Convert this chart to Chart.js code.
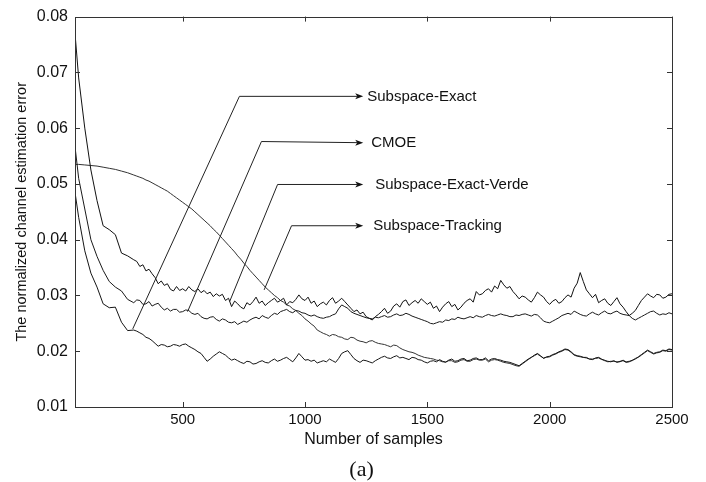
<!DOCTYPE html>
<html>
<head>
<meta charset="utf-8">
<script src="https://cdn.jsdelivr.net/npm/chart.js@4/dist/chart.umd.min.js"></script>
<style>
  html, body { margin: 0; padding: 0; background: #ffffff; }
  #wrap { width: 706px; height: 482px; position: relative; }
</style>
</head>
<body>
<div id="wrap"><canvas id="c" width="706" height="482"></canvas></div>
<script>
// ---------------- data ----------------
const samples = [
  60,75,100,125,150,175,200,225,250,275,
  300,312.5,325,337.5,350,362.5,375,387.5,400,412.5,425,437.5,450,462.5,475,487.5,
  500,512.5,525,537.5,550,562.5,575,587.5,600,612.5,625,637.5,650,662.5,675,687.5,
  700,712.5,725,737.5,750,762.5,775,787.5,800,812.5,825,837.5,850,862.5,875,887.5,
  900,912.5,925,937.5,950,962.5,975,987.5,1000,1012.5,1025,1037.5,1050,1062.5,1075,1087.5,
  1100,1112.5,1125,1137.5,1150,1162.5,1175,1187.5,1200,1212.5,1225,1237.5,1250,1262.5,1275,1287.5,
  1300,1312.5,1325,1337.5,1350,1362.5,1375,1387.5,1400,1412.5,1425,1437.5,1450,1462.5,1475,1487.5,
  1500,1512.5,1525,1537.5,1550,1562.5,1575,1587.5,1600,1612.5,1625,1637.5,1650,1662.5,1675,1687.5,
  1700,1712.5,1725,1737.5,1750,1762.5,1775,1787.5,1800,1812.5,1825,1837.5,1850,1862.5,1875,1887.5,
  1900,1912.5,1925,1937.5,1950,1962.5,1975,1987.5,2000,2012.5,2025,2037.5,2050,2062.5,2075,2087.5,
  2100,2112.5,2125,2137.5,2150,2162.5,2175,2187.5,2200,2212.5,2225,2237.5,2250,2262.5,2275,2287.5,
  2300,2312.5,2325,2337.5,2350,2362.5,2375,2387.5,2400,2412.5,2425,2437.5,2450,2462.5,2475,2487.5,
  2500];

const subspaceExactVerde = [
  0.0770,0.0690,0.0600,0.0525,0.0470,0.0425,0.0418,0.0409,0.0376,0.0371,
  0.0364,0.0361,0.0352,0.0355,0.0344,0.0347,0.0339,0.0332,0.0321,0.0326,0.0318,0.0321,0.0311,0.0308,0.0316,0.0309,
  0.0312,0.0308,0.0316,0.0310,0.0307,0.0312,0.0305,0.0309,0.0303,0.0306,0.0298,0.0303,0.0299,0.0302,0.0291,0.0295,
  0.0280,0.0290,0.0285,0.0279,0.0276,0.0287,0.0283,0.0289,0.0297,0.0286,0.0290,0.0282,0.0287,0.0291,0.0295,0.0288,
  0.0291,0.0295,0.0283,0.0289,0.0287,0.0293,0.0301,0.0294,0.0291,0.0297,0.0286,0.0290,0.0280,0.0285,0.0288,0.0283,
  0.0291,0.0296,0.0286,0.0290,0.0295,0.0289,0.0283,0.0277,0.0271,0.0274,0.0267,0.0270,0.0262,0.0259,0.0256,0.0262,
  0.0266,0.0271,0.0277,0.0268,0.0272,0.0281,0.0285,0.0279,0.0289,0.0292,0.0282,0.0287,0.0291,0.0286,0.0294,0.0289,
  0.0284,0.0288,0.0277,0.0281,0.0271,0.0279,0.0285,0.0289,0.0280,0.0284,0.0274,0.0279,0.0286,0.0291,0.0294,0.0288,
  0.0307,0.0301,0.0303,0.0309,0.0312,0.0306,0.0317,0.0312,0.0327,0.0319,0.0313,0.0316,0.0307,0.0301,0.0294,0.0299,
  0.0297,0.0292,0.0288,0.0296,0.0306,0.0301,0.0297,0.0289,0.0284,0.0290,0.0293,0.0286,0.0289,0.0296,0.0301,0.0297,
  0.0313,0.0322,0.0341,0.0325,0.0310,0.0303,0.0296,0.0302,0.0287,0.0291,0.0294,0.0286,0.0282,0.0289,0.0296,0.0285,
  0.0279,0.0271,0.0264,0.0268,0.0273,0.0282,0.0291,0.0297,0.0303,0.0299,0.0296,0.0302,0.0301,0.0295,0.0297,0.0302,
  0.0303];

const cmoe = [
  0.0567,0.0510,0.0455,0.0400,0.0370,0.0345,0.0325,0.0315,0.0308,0.0293,
  0.0287,0.0292,0.0291,0.0284,0.0285,0.0289,0.0281,0.0284,0.0286,0.0279,0.0274,0.0277,0.0272,0.0275,0.0275,0.0270,
  0.0271,0.0274,0.0273,0.0268,0.0266,0.0268,0.0262,0.0259,0.0258,0.0261,0.0262,0.0257,0.0254,0.0258,0.0256,0.0252,
  0.0251,0.0253,0.0248,0.0251,0.0254,0.0252,0.0256,0.0259,0.0261,0.0258,0.0264,0.0261,0.0259,0.0264,0.0268,0.0266,
  0.0271,0.0273,0.0275,0.0271,0.0269,0.0273,0.0272,0.0269,0.0268,0.0265,0.0263,0.0265,0.0262,0.0260,0.0259,0.0261,
  0.0262,0.0265,0.0267,0.0276,0.0283,0.0280,0.0277,0.0271,0.0268,0.0266,0.0264,0.0262,0.0260,0.0259,0.0258,0.0261,
  0.0260,0.0262,0.0264,0.0261,0.0262,0.0265,0.0267,0.0264,0.0265,0.0268,0.0266,0.0263,0.0261,0.0259,0.0257,0.0255,
  0.0253,0.0250,0.0249,0.0251,0.0253,0.0252,0.0256,0.0255,0.0258,0.0257,0.0261,0.0259,0.0258,0.0260,0.0262,0.0260,
  0.0264,0.0262,0.0261,0.0264,0.0266,0.0264,0.0263,0.0265,0.0267,0.0265,0.0264,0.0262,0.0262,0.0265,0.0264,0.0266,
  0.0267,0.0265,0.0263,0.0266,0.0265,0.0260,0.0254,0.0252,0.0251,0.0254,0.0257,0.0260,0.0264,0.0266,0.0268,0.0266,
  0.0272,0.0269,0.0266,0.0264,0.0263,0.0267,0.0270,0.0267,0.0265,0.0269,0.0272,0.0268,0.0267,0.0270,0.0272,0.0268,
  0.0266,0.0265,0.0264,0.0259,0.0256,0.0259,0.0262,0.0265,0.0268,0.0271,0.0272,0.0268,0.0265,0.0267,0.0266,0.0269,
  0.0267];

const subspaceExact = [
  0.0485,0.0440,0.0380,0.0340,0.0315,0.0285,0.0278,0.0279,0.0252,0.0237,
  0.0238,0.0236,0.0233,0.0230,0.0225,0.0223,0.0219,0.0214,0.0209,0.0212,0.0211,0.0208,0.0209,0.0212,0.0211,0.0209,
  0.0212,0.0213,0.0209,0.0206,0.0203,0.0199,0.0196,0.0189,0.0182,0.0186,0.0191,0.0195,0.0199,0.0196,0.0193,0.0188,
  0.0184,0.0186,0.0183,0.0180,0.0178,0.0182,0.0181,0.0177,0.0178,0.0181,0.0183,0.0180,0.0179,0.0183,0.0186,0.0182,
  0.0184,0.0187,0.0189,0.0185,0.0181,0.0188,0.0196,0.0190,0.0184,0.0185,0.0182,0.0184,0.0179,0.0181,0.0183,0.0181,
  0.0186,0.0183,0.0180,0.0187,0.0196,0.0199,0.0201,0.0194,0.0187,0.0183,0.0180,0.0184,0.0183,0.0181,0.0179,0.0183,
  0.0186,0.0189,0.0191,0.0188,0.0187,0.0190,0.0192,0.0188,0.0189,0.0187,0.0185,0.0189,0.0188,0.0185,0.0184,0.0181,
  0.0179,0.0182,0.0183,0.0181,0.0185,0.0182,0.0180,0.0184,0.0186,0.0182,0.0183,0.0186,0.0187,0.0183,0.0184,0.0187,
  0.0188,0.0185,0.0185,0.0188,0.0183,0.0186,0.0187,0.0185,0.0184,0.0182,0.0181,0.0180,0.0178,0.0176,0.0174,0.0178,
  0.0182,0.0186,0.0189,0.0193,0.0196,0.0192,0.0187,0.0190,0.0191,0.0194,0.0196,0.0199,0.0201,0.0204,0.0203,0.0199,
  0.0194,0.0192,0.0191,0.0189,0.0188,0.0186,0.0185,0.0188,0.0189,0.0186,0.0183,0.0182,0.0181,0.0183,0.0180,0.0182,
  0.0183,0.0180,0.0181,0.0184,0.0186,0.0190,0.0194,0.0198,0.0202,0.0199,0.0196,0.0198,0.0199,0.0202,0.0201,0.0204,
  0.0203];

const subspaceTracking = [
  0.0535,0.0535,0.0534,0.0533,0.0532,0.0530,0.0528,0.0526,0.0523,0.0520,
  0.0516,0.0514,0.0512,0.0510,0.0507,0.0505,0.0502,0.0499,0.0496,0.0493,0.0490,0.0487,0.0483,0.0479,0.0475,0.0471,
  0.0467,0.0463,0.0459,0.0455,0.0450,0.0445,0.0440,0.0435,0.0430,0.0425,0.0419,0.0414,0.0408,0.0402,0.0396,0.0390,
  0.0384,0.0378,0.0371,0.0365,0.0358,0.0352,0.0345,0.0339,0.0333,0.0327,0.0321,0.0315,0.0310,0.0305,0.0300,0.0296,
  0.0291,0.0288,0.0283,0.0281,0.0276,0.0273,0.0268,0.0264,0.0258,0.0254,0.0249,0.0245,0.0238,0.0235,0.0232,0.0230,
  0.0227,0.0230,0.0229,0.0226,0.0225,0.0222,0.0221,0.0225,0.0224,0.0220,0.0218,0.0217,0.0215,0.0218,0.0219,0.0216,
  0.0214,0.0213,0.0212,0.0210,0.0208,0.0211,0.0210,0.0206,0.0203,0.0201,0.0199,0.0198,0.0196,0.0193,0.0191,0.0189,
  0.0188,0.0187,0.0186,0.0184,0.0183,0.0181,0.0181,0.0183,0.0183,0.0180,0.0181,0.0184,0.0185,0.0182,0.0182,0.0185,
  0.0186,0.0184,0.0184,0.0186,0.0181,0.0184,0.0185,0.0184,0.0182,0.0180,0.0179,0.0178,0.0176,0.0174,0.0173,0.0177,
  0.0181,0.0185,0.0189,0.0192,0.0195,0.0191,0.0188,0.0189,0.0190,0.0193,0.0195,0.0198,0.0200,0.0203,0.0202,0.0198,
  0.0193,0.0191,0.0190,0.0189,0.0189,0.0186,0.0186,0.0187,0.0188,0.0185,0.0184,0.0181,0.0182,0.0182,0.0181,0.0181,
  0.0184,0.0181,0.0182,0.0183,0.0187,0.0189,0.0193,0.0197,0.0201,0.0198,0.0195,0.0197,0.0198,0.0201,0.0200,0.0203,
  0.0202];

const xTicks = [500, 1000, 1500, 2000, 2500];
const yTicks = [0.01, 0.02, 0.03, 0.04, 0.05, 0.06, 0.07, 0.08];

const seriesNames = ['Subspace-Exact', 'CMOE', 'Subspace-Exact-Verde', 'Subspace-Tracking'];
const xTitle = 'Number of samples';
const yTitle = 'The normalized channel estimation error';
const caption = '(a)';

// annotation callouts, in data units (anchor on curve -> elbow -> arrow tip)
const callouts = [
  { text: seriesNames[0], anchor: [296, 0.0240], elbow: [732, 0.0657], tip: [1238, 0.0657], gap: 4 },
  { text: seriesNames[1], anchor: [520, 0.0271], elbow: [822, 0.0576], tip: [1238, 0.0574], gap: 8 },
  { text: seriesNames[2], anchor: [692, 0.0289], elbow: [888, 0.0499], tip: [1238, 0.0499], gap: 12 },
  { text: seriesNames[3], anchor: [833, 0.0310], elbow: [945, 0.0425], tip: [1238, 0.0425], gap: 10 }
];

function pts(ys) { return samples.map((x, i) => ({ x: x, y: ys[i] })); }

// ---------------- plugins ----------------
const framePlugin = {
  id: 'frame',
  afterDatasetsDraw(chart) {
    const { ctx, chartArea: a, scales } = chart;
    ctx.save();
    ctx.strokeStyle = '#333';
    ctx.lineWidth = 1;
    ctx.strokeRect(Math.round(a.left) + 0.5, Math.round(a.top) + 0.5, Math.round(a.right - a.left), Math.round(a.bottom - a.top));
    const tl = 5;
    ctx.beginPath();
    xTicks.forEach(v => {
      const px = Math.round(scales.x.getPixelForValue(v)) + 0.5;
      ctx.moveTo(px, a.bottom); ctx.lineTo(px, a.bottom - tl);
      ctx.moveTo(px, a.top); ctx.lineTo(px, a.top + tl);
    });
    yTicks.forEach(v => {
      const py = Math.round(scales.y.getPixelForValue(v)) + 0.5;
      ctx.moveTo(a.left, py); ctx.lineTo(a.left + tl, py);
      ctx.moveTo(a.right, py); ctx.lineTo(a.right - tl, py);
    });
    ctx.stroke();

    // callouts
    ctx.strokeStyle = '#222';
    ctx.fillStyle = '#111';
    ctx.lineWidth = 1;
    ctx.font = '15px "Liberation Sans", Arial, sans-serif';
    ctx.textBaseline = 'middle';
    ctx.textAlign = 'left';
    callouts.forEach(c => {
      const ax = scales.x.getPixelForValue(c.anchor[0]), ay = scales.y.getPixelForValue(c.anchor[1]);
      const ex = scales.x.getPixelForValue(c.elbow[0]), ey = scales.y.getPixelForValue(c.elbow[1]);
      const tx = scales.x.getPixelForValue(c.tip[0]), ty = scales.y.getPixelForValue(c.tip[1]);
      ctx.beginPath();
      ctx.moveTo(ax, ay); ctx.lineTo(ex, ey); ctx.lineTo(tx - 6, ty);
      ctx.stroke();
      ctx.beginPath();
      ctx.moveTo(tx, ty); ctx.lineTo(tx - 8, ty - 3); ctx.lineTo(tx - 6, ty); ctx.lineTo(tx - 8, ty + 3); ctx.closePath();
      ctx.fill();
      ctx.fillText(c.text, tx + c.gap, ty + 0.5);
    });

    // caption
    ctx.font = '22px "Liberation Serif", "Times New Roman", serif';
    ctx.textAlign = 'center';
    ctx.fillText(caption, scales.x.getPixelForValue(1231), 470);
    ctx.restore();
  }
};

// ---------------- chart ----------------
const lineBase = { borderWidth: 1, pointRadius: 0, tension: 0, fill: false };

new Chart(document.getElementById('c'), {
  type: 'line',
  data: {
    datasets: [
      Object.assign({ label: seriesNames[0], data: pts(subspaceExact), borderColor: '#161616' }, lineBase),
      Object.assign({ label: seriesNames[1], data: pts(cmoe), borderColor: '#1a1a1a' }, lineBase),
      Object.assign({ label: seriesNames[2], data: pts(subspaceExactVerde), borderColor: '#111111' }, lineBase),
      Object.assign({ label: seriesNames[3], data: pts(subspaceTracking), borderColor: '#333333' }, lineBase)
    ]
  },
  options: {
    responsive: false,
    animation: false,
    devicePixelRatio: 1,
    layout: { padding: { left: 0, right: 34, top: 11, bottom: 30 } },
    plugins: { legend: { display: false }, tooltip: { enabled: false } },
    scales: {
      x: {
        type: 'linear',
        min: 60, max: 2500,
        afterFit(s) { s.height = 45; },
        afterBuildTicks(s) { s.ticks = xTicks.map(v => ({ value: v })); },
        grid: { display: false, drawTicks: false },
        border: { display: false },
        ticks: { color: '#111', padding: 4, maxRotation: 0, autoSkip: false,
          font: { family: '"Liberation Sans", Arial, sans-serif', size: 15 },
          callback: v => String(v) },
        title: { display: true, text: xTitle, color: '#111',
          font: { family: '"Liberation Sans", Arial, sans-serif', size: 16 },
          padding: { top: 0, bottom: 2.4 } }
      },
      y: {
        min: 0.01, max: 0.08,
        afterFit(s) { s.width = 75; },
        afterBuildTicks(s) { s.ticks = yTicks.map(v => ({ value: v })); },
        grid: { display: false, drawTicks: false },
        border: { display: false },
        ticks: { color: '#111', padding: 7,
          font: { family: '"Liberation Sans", Arial, sans-serif', size: 16 },
          callback: v => Number(v).toFixed(2) },
        title: { display: true, text: yTitle, color: '#111',
          font: { family: '"Liberation Sans", Arial, sans-serif', size: 14.5 },
          padding: { top: 13, bottom: 0 } }
      }
    }
  },
  plugins: [framePlugin]
});
</script>
</body>
</html>
